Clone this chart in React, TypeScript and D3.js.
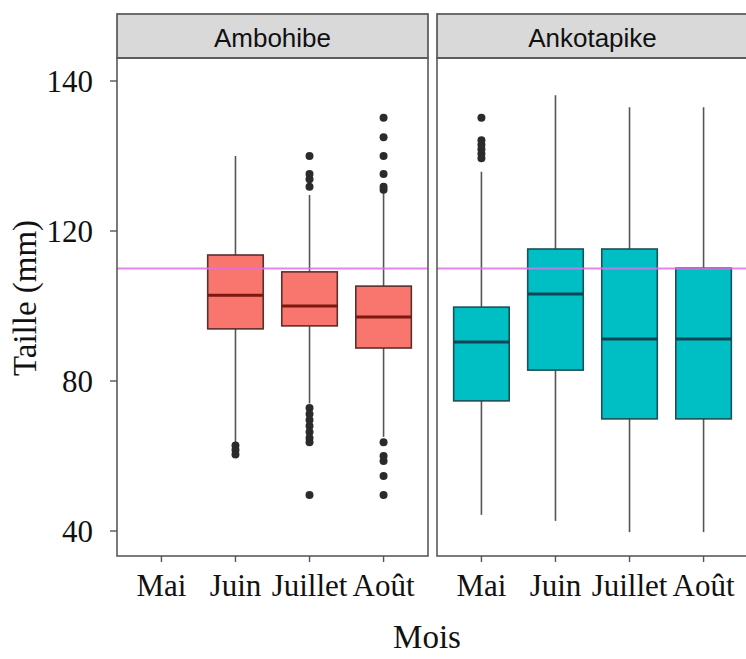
import React from "react";
import * as d3 from "d3";

const months = ["Mai", "Juin", "Juillet", "Août"];
const sites = ["Ambohibe", "Ankotapike"];
const yTicks = [40, 80, 120, 140];
const refLine = 110;

// [site][month] -> stats or null
const whiskerLow = [
  [null, 63.5, 74.0, 65.1],
  [44.3, 42.7, 39.7, 39.7],
];
const q1 = [
  [null, 93.9, 94.7, 88.8],
  [74.7, 82.9, 69.9, 69.9],
];
const medians = [
  [null, 102.9, 100.0, 97.1],
  [90.4, 103.2, 91.2, 91.2],
];
const q3 = [
  [null, 113.6, 109.1, 105.3],
  [99.7, 115.2, 115.2, 110.1],
];
const whiskerHigh = [
  [null, 130.0, 124.8, 125.2],
  [127.9, 138.1, 136.5, 136.5],
];
const outliers = [
  [
    [],
    [62.8, 61.6, 60.4],
    [130.0, 127.6, 126.9, 125.9, 72.8, 71.2, 69.6, 68.0, 66.4, 64.8, 63.7, 49.6],
    [135.1, 132.5, 130.0, 127.6, 125.9, 125.5, 63.7, 60.0, 58.7, 54.7, 49.6],
  ],
  [[135.1, 132.1, 131.5, 130.9, 130.3, 129.7], [], [], []],
];

const fills = ["#F8766D", "#00BFC4"];
const outlines = ["#5b2f2b", "#1d4f57"];
const medianCols = ["#7d1810", "#0b4654"];

const panelX = [
  [117, 428],
  [437, 748],
];
const panelTop = 58;
const stripTop = 14;
const panelBottom = 556;

const serif = "'Liberation Serif', 'Times New Roman', serif";
const sans = "'Liberation Sans', Arial, sans-serif";

export default function App() {
  const y = d3
    .scaleLinear()
    .domain([40, 120, 140])
    .range([531, 231, 81]);

  return (
    <svg
      width={746}
      height={659}
      style={{ position: "absolute", left: 0, top: 0, background: "#fff" }}
    >
      <rect x={0} y={0} width={746} height={659} fill="#fff" />
      {sites.map((site, s) => {
        const [x0, x1] = panelX[s];
        const x = d3.scalePoint<string>().domain(months).range([x0, x1]).padding(0.6);
        const bw = x.step() * 0.75;
        return (
          <g key={site}>
            {/* strip */}
            <rect
              x={x0}
              y={stripTop}
              width={x1 - x0}
              height={panelTop - stripTop}
              fill="#D9D9D9"
              stroke="#4d4d4d"
              strokeWidth={1.6}
            />
            <text
              x={(x0 + x1) / 2}
              y={47}
              textAnchor="middle"
              fontFamily={sans}
              fontSize={26}
              fill="#111"
            >
              {site}
            </text>
            {/* boxes */}
            {months.map((m, i) => {
              if (medians[s][i] == null) return null;
              const cx = x(m)!;
              return (
                <g key={m}>
                  <line
                    x1={cx}
                    x2={cx}
                    y1={y(whiskerHigh[s][i]!)}
                    y2={y(q3[s][i]!)}
                    stroke="#555"
                    strokeWidth={1.6}
                  />
                  <line
                    x1={cx}
                    x2={cx}
                    y1={y(q1[s][i]!)}
                    y2={y(whiskerLow[s][i]!)}
                    stroke="#555"
                    strokeWidth={1.6}
                  />
                  <rect
                    x={cx - bw / 2}
                    y={y(q3[s][i]!)}
                    width={bw}
                    height={y(q1[s][i]!) - y(q3[s][i]!)}
                    fill={fills[s]}
                    stroke={outlines[s]}
                    strokeWidth={1.6}
                  />
                  <line
                    x1={cx - bw / 2}
                    x2={cx + bw / 2}
                    y1={y(medians[s][i]!)}
                    y2={y(medians[s][i]!)}
                    stroke={medianCols[s]}
                    strokeWidth={3}
                  />
                  {outliers[s][i].map((v, k) => (
                    <circle key={k} cx={cx} cy={y(v)} r={4} fill="#2b2b2b" />
                  ))}
                </g>
              );
            })}
            {/* reference line */}
            <line
              x1={x0}
              x2={x1}
              y1={y(refLine)}
              y2={y(refLine)}
              stroke="#E070E8"
              strokeOpacity={0.85}
              strokeWidth={2.2}
            />
            {/* panel border */}
            <rect
              x={x0}
              y={panelTop}
              width={x1 - x0}
              height={panelBottom - panelTop}
              fill="none"
              stroke="#5a5a5a"
              strokeWidth={1.6}
            />
            {/* x ticks */}
            {months.map((m) => (
              <g key={"t" + m}>
                <line
                  x1={x(m)!}
                  x2={x(m)!}
                  y1={panelBottom}
                  y2={panelBottom + 6}
                  stroke="#555"
                  strokeWidth={1.4}
                />
                <text
                  x={x(m)!}
                  y={596}
                  textAnchor="middle"
                  fontFamily={serif}
                  fontSize={31}
                  fill="#111"
                >
                  {m}
                </text>
              </g>
            ))}
          </g>
        );
      })}
      {/* y axis */}
      {yTicks.map((t) => (
        <g key={t}>
          <line
            x1={110}
            x2={117}
            y1={y(t)}
            y2={y(t)}
            stroke="#555"
            strokeWidth={1.4}
          />
          <text
            x={93}
            y={y(t)}
            dy="0.35em"
            textAnchor="end"
            fontFamily={serif}
            fontSize={31}
            fill="#111"
          >
            {t}
          </text>
        </g>
      ))}
      <text
        transform="translate(36,298) rotate(-90)"
        textAnchor="middle"
        fontFamily={serif}
        fontSize={33}
        fill="#111"
      >
        Taille (mm)
      </text>
      <text
        x={427}
        y={648}
        textAnchor="middle"
        fontFamily={serif}
        fontSize={33}
        fill="#111"
      >
        Mois
      </text>
    </svg>
  );
}
